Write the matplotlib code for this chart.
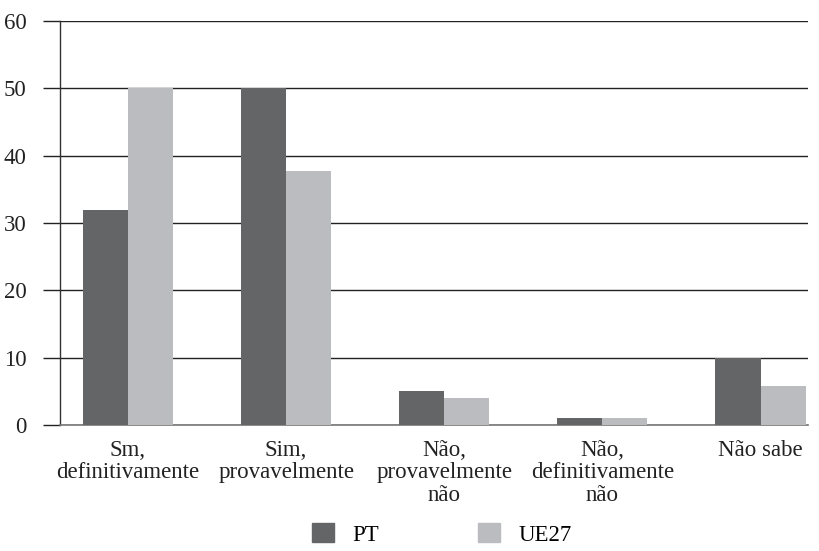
import numpy as np
import matplotlib
matplotlib.use("Agg")
import matplotlib.pyplot as plt
from matplotlib.patches import Patch

plt.rcParams['font.family'] = ['Liberation Serif', 'DejaVu Serif']

categories = ["Sm,\ndefinitivamente", "Sim,\nprovavelmente", "Não,\nprovavelmente\nnão",
              "Não,\ndefinitivamente\nnão", "Não sabe"]
pt_values = [32, 50, 5, 1, 10]
ue27_values = [50, 37.7, 4, 1, 5.8]
series_names = ["PT", "UE27"]

PT_COLOR = "#646567"
UE_COLOR = "#bbbcbf"
FS = 16.5

fig = plt.figure(figsize=(8.2, 5.51), dpi=100)
ax = fig.add_axes([60/820, 1-425/551, 748/820, 404/551])

x = np.arange(len(categories))
w = 0.285
ax.bar(x - w/2, pt_values, w, color=PT_COLOR, zorder=3)
ax.bar(x + w/2, ue27_values, w, color=UE_COLOR, zorder=3)

ax.set_xlim(-0.43, 4.30)
ax.set_ylim(0, 60)
ax.set_yticks(range(0, 61, 10))
ax.yaxis.grid(True, color="#222222", linewidth=1.0, zorder=0)
ax.tick_params(axis='y', length=12, width=1.0, color="#222222", pad=12, labelsize=FS)
ax.tick_params(axis='x', length=0, pad=11, labelsize=FS)
ax.set_xticks(x)
ax.set_xticklabels(categories, linespacing=1.07, color="#222222")
for lab in ax.get_yticklabels():
    lab.set_color("#222222")

for s in ["top", "right"]:
    ax.spines[s].set_visible(False)
ax.spines["left"].set_color("#333333")
ax.spines["left"].set_linewidth(1.0)
ax.spines["bottom"].set_color("#777777")
ax.spines["bottom"].set_linewidth(1.2)

handles = [Patch(color=PT_COLOR), Patch(color=UE_COLOR)]
fig.legend(handles, series_names, loc="lower center", bbox_to_anchor=(442/820, -0.028),
           ncol=2, frameon=False, fontsize=FS, handlelength=0.96, handleheight=0.9,
           columnspacing=4.3, handletextpad=0.8)

fig.savefig("out.png", dpi=100)
